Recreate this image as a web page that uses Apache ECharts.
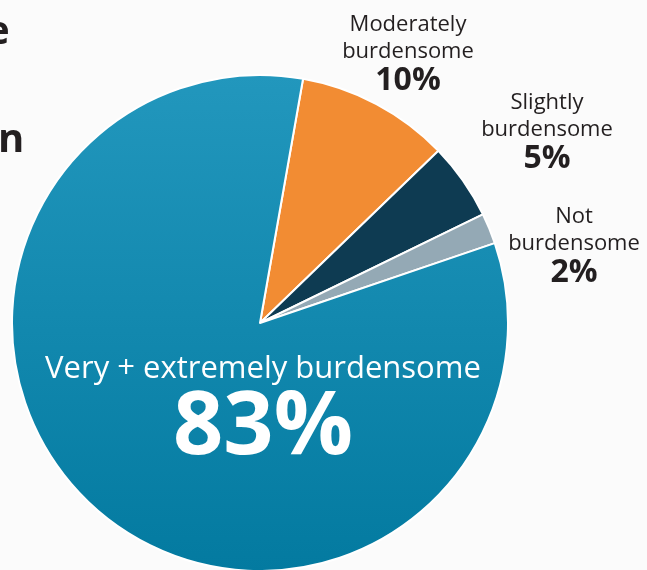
<!DOCTYPE html>
<html>
<head>
<meta charset="utf-8">
<title>Burden survey</title>
<script src="https://cdn.jsdelivr.net/npm/echarts@6/dist/echarts.min.js"></script>
<style>
  html, body { margin: 0; padding: 0; background: #fbfbfb; }
  #chart { width: 647px; height: 570px; }
</style>
</head>
<body>
<div id="chart"></div>
<script>
// Survey responses: how burdensome respondents find the process
const categories = ['Moderately burdensome', 'Slightly burdensome', 'Not burdensome', 'Very + extremely burdensome'];
const nameLines = [['Moderately', 'burdensome'], ['Slightly', 'burdensome'], ['Not', 'burdensome'], ['Very + extremely burdensome']];
const values = [10, 5, 2, 83];

const colors = [
  '#f28c33',
  '#0e3b52',
  '#94a9b5',
  { type: 'linear', x: 0, y: 0, x2: 0, y2: 1,
    colorStops: [{ offset: 0, color: '#2297bd' }, { offset: 1, color: '#037aa0' }] }
];

// Label anchor points (centre of each label block)
const labelAnchors = [[408, 54], [547, 132], [574, 246], [263, 409]];

const FONT = '"Open Sans", "Noto Sans", sans-serif';
const chart = echarts.init(document.getElementById('chart'));

const data = values.map((v, i) => {
  const big = i === 3;
  const text = nameLines[i].map(l => '{n|' + l + '}').join('\n') + '\n{p|' + v + '%}';
  return {
    name: categories[i],
    value: v,
    itemStyle: { color: colors[i] },
    label: {
      formatter: text,
      rich: big ? {
        n: { fontSize: 31, color: '#ffffff', fontFamily: FONT, lineHeight: 40, align: 'center' },
        p: { fontSize: 88, color: '#ffffff', fontFamily: FONT, fontWeight: 'bold', lineHeight: 80, align: 'center' }
      } : {
        n: { fontSize: 22, color: '#231f20', fontFamily: FONT, lineHeight: 27, align: 'center' },
        p: { fontSize: 32, color: '#231f20', fontFamily: FONT, fontWeight: 'bold', lineHeight: 32, align: 'center' }
      }
    }
  };
});

chart.setOption({
  backgroundColor: '#fbfbfb',
  animation: false,
  graphic: [
    { type: 'text', x: -14, y: 33,
      style: { text: 'e', fontSize: 40, fontWeight: 'bold', fontFamily: FONT, fill: '#231f20', verticalAlign: 'middle' } },
    { type: 'text', x: -2, y: 141,
      style: { text: 'n', fontSize: 40, fontWeight: 'bold', fontFamily: FONT, fill: '#231f20', verticalAlign: 'middle' } }
  ],
  series: [{
    type: 'pie',
    center: [260, 323],
    radius: 248,
    startAngle: 80,
    clockwise: true,
    silent: true,
    itemStyle: { borderColor: '#ffffff', borderWidth: 2 },
    label: { show: true, position: 'inside', align: 'center', verticalAlign: 'middle' },
    labelLine: { show: false },
    labelLayout: function (params) {
      const p = labelAnchors[params.dataIndex];
      return { x: p[0], y: p[1], align: 'center', verticalAlign: 'middle' };
    },
    data: data
  }]
});
</script>
</body>
</html>
